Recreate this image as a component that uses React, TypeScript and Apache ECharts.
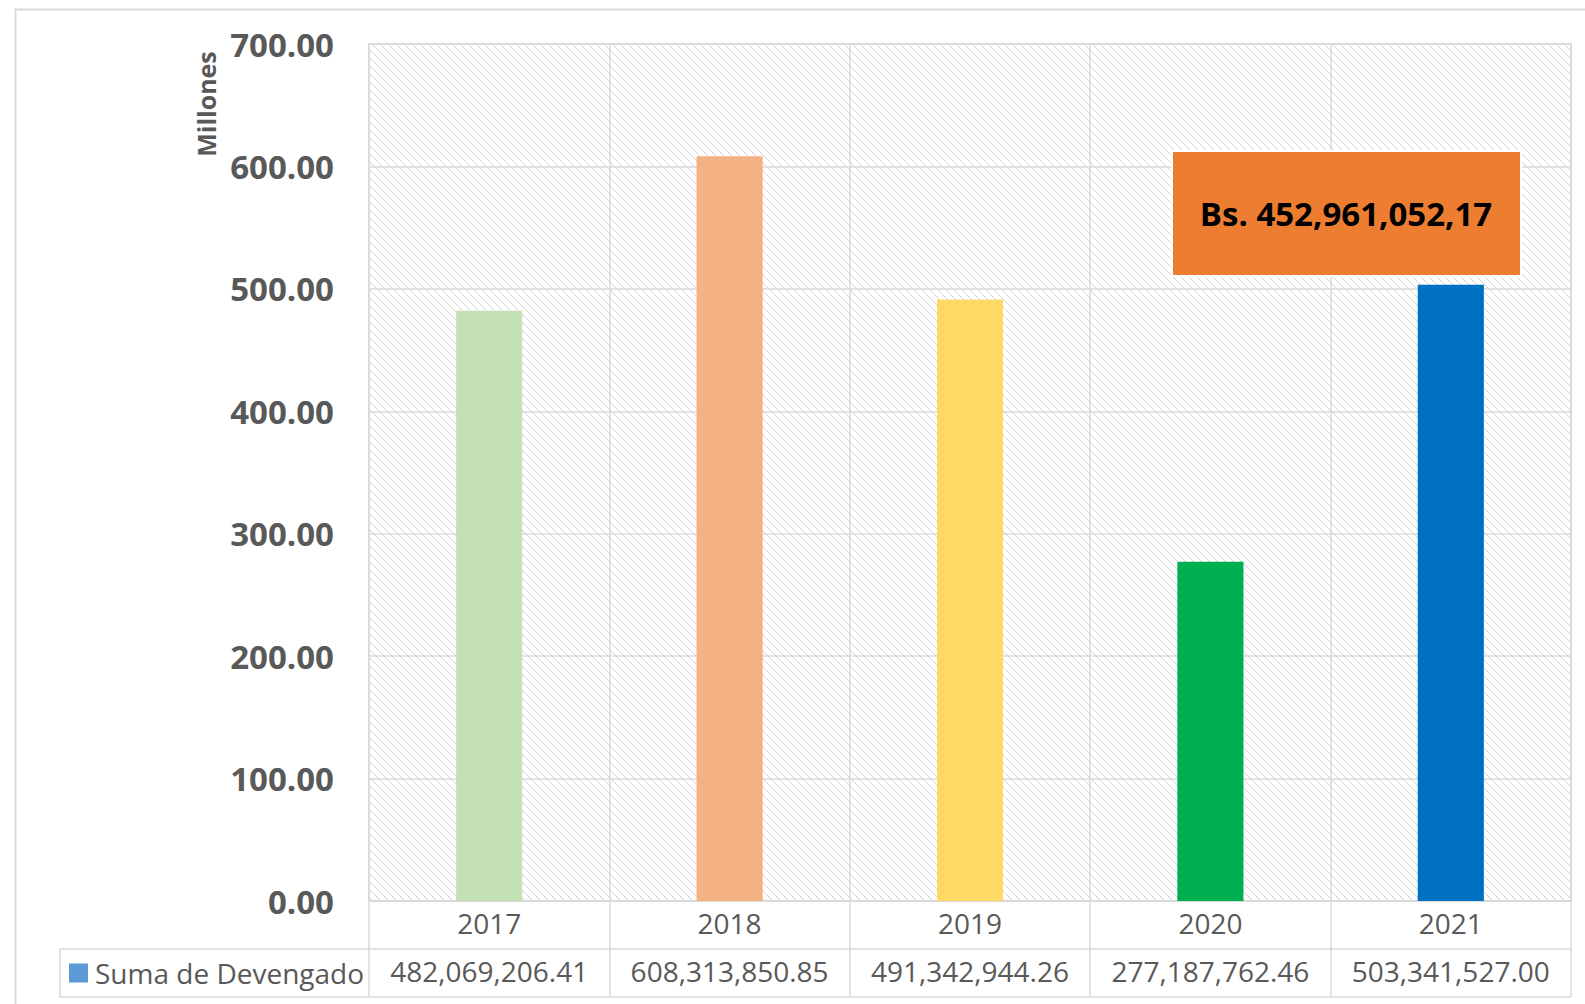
import React, { useEffect, useRef } from "react";
import * as echarts from "echarts";

const years = ["2017", "2018", "2019", "2020", "2021"];
const devengado = [482069206.41, 608313850.85, 491342944.26, 277187762.46, 503341527.0];
const barColors = ["#C5E0B4", "#F4B183", "#FFD966", "#00B050", "#0070C0"];
const seriesName = "Suma de Devengado";
const legendColor = "#5B9BD5";
const axisName = "Millones";
const annotationText = "Bs. 452,961,052,17";

const FONT = "'Open Sans', 'Noto Sans', sans-serif";
const GREY = "#595959";
const LINE = "#D9D9D9";

function makePattern() {
  const c = document.createElement("canvas");
  c.width = 8;
  c.height = 8;
  const ctx = c.getContext("2d")!;
  ctx.fillStyle = "#ffffff";
  ctx.fillRect(0, 0, 8, 8);
  ctx.fillStyle = "#D3D3D3";
  for (let y = 0; y < 8; y++) {
    for (let x = 0; x < 8; x++) {
      const d = (x - y + 16) % 8;
      if (d === 0 || d === 1) {
        if ((x + y) % 2 === 0 || d === 0) ctx.fillRect(x, y, 1, 1);
      }
    }
  }
  return c;
}

export default function App() {
  const ref = useRef<HTMLDivElement>(null);
  useEffect(() => {
    if (!ref.current) return;
    const chart = echarts.init(ref.current, null, { renderer: "svg" });
    const pattern = makePattern();
    const millions = devengado.map((v) => v / 1e6);
    const tableLabels = devengado.map((v) =>
      v.toLocaleString("en-US", { minimumFractionDigits: 2, maximumFractionDigits: 2 })
    );
    chart.setOption({
      animation: false,
      backgroundColor: "#ffffff",
      textStyle: { fontFamily: FONT },
      grid: {
        left: 369,
        top: 44,
        right: 14,
        bottom: 103,
        show: true,
        borderColor: LINE,
        borderWidth: 1.5,
        backgroundColor: { image: pattern, repeat: "repeat", imageWidth: 8, imageHeight: 8 },
      },
      legend: {
        left: 69,
        top: 959,
        padding: 0,
        icon: "rect",
        itemWidth: 19,
        itemHeight: 19,
        textStyle: { fontSize: 28, color: GREY, fontFamily: FONT, padding: [0, 0, 0, 2] },
        data: [seriesName],
      },
      xAxis: [
        {
          type: "category",
          data: years,
          position: "bottom",
          axisLine: { show: true, lineStyle: { color: LINE, width: 1.5 } },
          axisTick: { show: true, alignWithLabel: false, length: 96, lineStyle: { color: LINE, width: 1.5 } },
          splitLine: { show: true, lineStyle: { color: LINE, width: 1.5 } },
          axisLabel: { fontSize: 28, color: GREY, fontFamily: FONT, margin: 8, interval: 0 },
        },
        {
          type: "category",
          data: tableLabels,
          position: "bottom",
          offset: 48,
          axisLine: { show: true, lineStyle: { color: LINE, width: 1.5 } },
          axisTick: { show: false },
          splitLine: { show: false },
          axisLabel: {
            fontSize: 28,
            color: GREY,
            fontFamily: FONT,
            margin: 8,
            interval: 0,
            hideOverlap: false,
          },
        },
      ],
      yAxis: {
        type: "value",
        min: 0,
        max: 700,
        interval: 100,
        axisLine: { show: false },
        axisTick: { show: false },
        splitLine: { show: true, lineStyle: { color: LINE, width: 1.5 } },
        axisLabel: {
          fontSize: 33,
          fontWeight: "bold",
          color: GREY,
          fontFamily: FONT,
          margin: 35,
          formatter: (v: number) => v.toFixed(2),
        },
      },
      series: [
        {
          name: seriesName,
          type: "bar",
          xAxisIndex: 0,
          barWidth: "27.5%",
          itemStyle: { color: legendColor },
          data: millions.map((v, i) => ({ value: v, itemStyle: { color: barColors[i] } })),
        },
      ],
      graphic: [
        {
          type: "rect",
          left: 13,
          top: 7,
          shape: { x: 0, y: 0, width: 1600, height: 1100 },
          style: { fill: "none", stroke: LINE, lineWidth: 2 },
          silent: true,
          z: -10,
        },
        {
          type: "polyline",
          shape: { points: [[369, 949], [60, 949], [60, 997], [1571, 997]] },
          style: { fill: "none", stroke: LINE, lineWidth: 1.5 },
          silent: true,
        },
        {
          type: "text",
          x: 206,
          y: 104,
          rotation: Math.PI / 2,
          style: {
            text: axisName,
            fontSize: 25,
            fontWeight: "bold",
            fill: GREY,
            fontFamily: FONT,
            align: "center",
            verticalAlign: "middle",
          },
        },
        {
          type: "rect",
          shape: { x: 1172, y: 151, width: 349, height: 125 },
          style: { fill: "#ED7D31", stroke: "#ffffff", lineWidth: 2 },
          z: 100,
        },
        {
          type: "text",
          x: 1346,
          y: 213,
          z: 101,
          style: {
            text: annotationText,
            fontSize: 33,
            fontWeight: "bold",
            fill: "#000000",
            fontFamily: FONT,
            align: "center",
            verticalAlign: "middle",
          },
        },
      ],
    });
    return () => chart.dispose();
  }, []);
  return (
    <div
      ref={ref}
      style={{ position: "fixed", left: 0, top: 0, width: 1585, height: 1004 }}
    />
  );
}
